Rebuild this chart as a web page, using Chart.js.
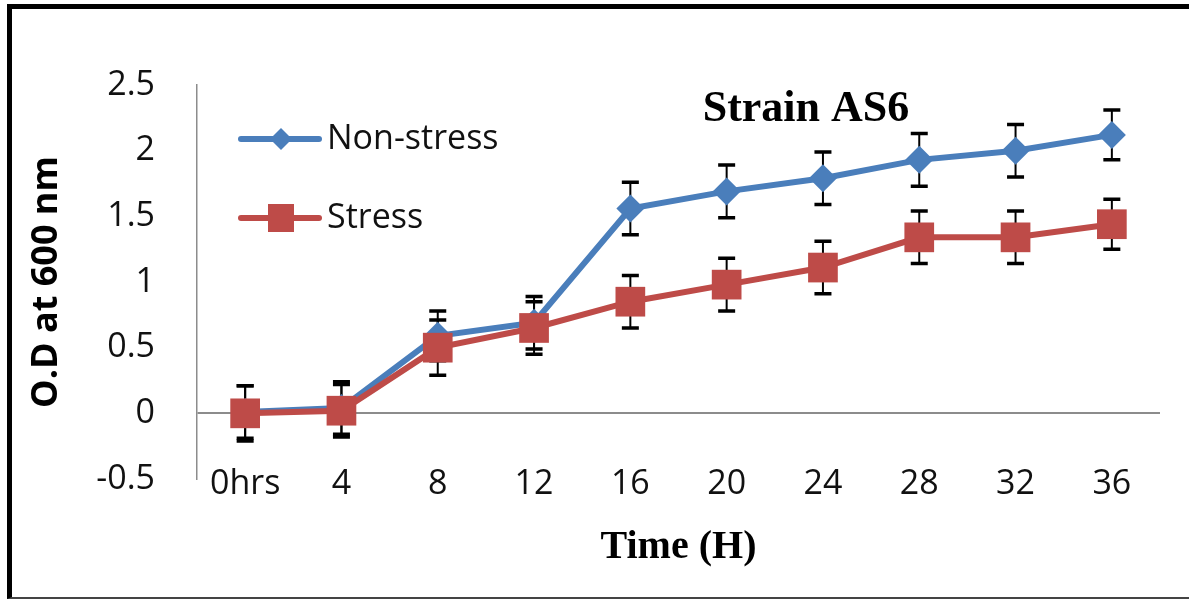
<!DOCTYPE html>
<html lang="en">
<head>
    <meta charset="UTF-8">
    <title>Strain AS6</title>
    <script src="https://cdn.jsdelivr.net/npm/chart.js"></script>
    <style>
        body {
            margin: 0;
            background: #fff;
        }

        #wrap {
            position: relative;
            width: 1189px;
            height: 601px;
        }

        #frame {
            position: absolute;
            left: 7px;
            top: 4px;
            right: 0;
            bottom: 2px;
            border-top: 5px solid #000;
            border-left: 5px solid #000;
            border-bottom: 2px solid #444;
            pointer-events: none;
        }
    </style>
</head>
<body>
    <div id="wrap">
        <canvas id="odChart" width="1189" height="601"></canvas>
        <div id="frame"></div>
    </div>

    <script>
        const hours = ['0hrs', '4', '8', '12', '16', '20', '24', '28', '32', '36'];
        const nonStress = [0.01, 0.04, 0.59, 0.69, 1.56, 1.69, 1.79, 1.93, 2.0, 2.12];
        const nonStressErr = [0.2, 0.2, 0.19, 0.2, 0.2, 0.2, 0.2, 0.2, 0.2, 0.19];
        const stress = [0.0, 0.02, 0.5, 0.65, 0.85, 0.98, 1.11, 1.34, 1.34, 1.44];
        const stressErr = [0.21, 0.2, 0.21, 0.2, 0.2, 0.2, 0.2, 0.2, 0.2, 0.19];

        const BLUE = '#4A7EBB';
        const RED = '#BE4B48';

        function diamond(ctx, x, y, r, color) {
            ctx.beginPath();
            ctx.moveTo(x, y - r);
            ctx.lineTo(x + r, y);
            ctx.lineTo(x, y + r);
            ctx.lineTo(x - r, y);
            ctx.closePath();
            ctx.fillStyle = color;
            ctx.fill();
        }

        // error bars, drawn under the lines like in the excel chart
        const errorBars = {
            id: 'errorBars',
            beforeDatasetsDraw(chart) {
                const ctx = chart.ctx;
                const yScale = chart.scales.y;
                const errs = [nonStressErr, stressErr];
                ctx.save();
                ctx.strokeStyle = '#000';
                chart.data.datasets.forEach((ds, i) => {
                    const meta = chart.getDatasetMeta(i);
                    meta.data.forEach((pt, j) => {
                        const top = yScale.getPixelForValue(ds.data[j] + errs[i][j]);
                        const bot = yScale.getPixelForValue(ds.data[j] - errs[i][j]);
                        ctx.lineWidth = 2;
                        ctx.beginPath();
                        ctx.moveTo(pt.x, top);
                        ctx.lineTo(pt.x, bot);
                        ctx.stroke();
                        ctx.lineWidth = 3.5;
                        ctx.beginPath();
                        ctx.moveTo(pt.x - 8.5, top);
                        ctx.lineTo(pt.x + 8.5, top);
                        ctx.moveTo(pt.x - 8.5, bot);
                        ctx.lineTo(pt.x + 8.5, bot);
                        ctx.stroke();
                    });
                });
                ctx.restore();
            }
        };

        // legend box and chart title sit inside the plot area
        const insideText = {
            id: 'insideText',
            afterDraw(chart) {
                const ctx = chart.ctx;
                ctx.save();
                ctx.lineCap = 'round';
                ctx.lineWidth = 6;

                ctx.strokeStyle = BLUE;
                ctx.beginPath();
                ctx.moveTo(241, 139);
                ctx.lineTo(319, 139);
                ctx.stroke();
                diamond(ctx, 281, 139, 11, BLUE);

                ctx.strokeStyle = RED;
                ctx.beginPath();
                ctx.moveTo(241, 218);
                ctx.lineTo(319, 218);
                ctx.stroke();
                ctx.fillStyle = RED;
                ctx.fillRect(268, 204, 26, 28);

                ctx.fillStyle = '#111';
                ctx.font = '34px "Open Sans"';
                ctx.textAlign = 'left';
                ctx.textBaseline = 'middle';
                ctx.fillText(chart.data.datasets[0].label, 327, 139);
                ctx.fillText(chart.data.datasets[1].label, 327, 218);

                ctx.font = 'bold 44px "Liberation Serif"';
                ctx.textAlign = 'center';
                ctx.fillStyle = '#000';
                ctx.fillText('Strain AS6', 806, 110);
                ctx.restore();
            }
        };

        const ctx = document.getElementById('odChart').getContext('2d');
        new Chart(ctx, {
            type: 'line',
            data: {
                labels: hours,
                datasets: [
                    {
                        label: 'Non-stress',
                        data: nonStress,
                        order: 2,
                        borderColor: BLUE,
                        backgroundColor: BLUE,
                        borderWidth: 6,
                        pointStyle: 'rectRot',
                        pointRadius: 14,
                        pointBorderWidth: 0,
                        tension: 0
                    },
                    {
                        label: 'Stress',
                        data: stress,
                        order: 1,
                        borderColor: RED,
                        backgroundColor: RED,
                        borderWidth: 6,
                        pointStyle: 'rect',
                        pointRadius: 21,
                        pointBorderWidth: 0,
                        tension: 0
                    }
                ]
            },
            options: {
                responsive: false,
                animation: false,
                layout: {
                    padding: { left: 14, top: 85, right: 29, bottom: 0 }
                },
                plugins: {
                    legend: { display: false },
                    tooltip: { enabled: false }
                },
                scales: {
                    x: {
                        offset: true,
                        grid: { display: false, drawTicks: false },
                        border: { display: false },
                        ticks: {
                            color: '#111',
                            padding: -15,
                            font: { family: 'Open Sans', size: 34 }
                        },
                        title: {
                            display: true,
                            text: 'Time (H)',
                            color: '#000',
                            padding: { top: 0, bottom: 29 },
                            font: { family: 'Liberation Serif', size: 40, weight: 'bold' }
                        },
                        afterFit(scale) {
                            scale.height = 122;
                            // labels ride up into the plot a bit, so no clipping
                            scale._computeLabelArea = () => undefined;
                        }
                    },
                    y: {
                        min: -0.5,
                        max: 2.5,
                        grid: {
                            drawTicks: false,
                            lineWidth: 2,
                            color: c => c.tick && c.tick.value === 0 ? '#8c8c8c' : 'rgba(0,0,0,0)'
                        },
                        border: { display: true, color: '#8c8c8c', width: 1.5 },
                        ticks: {
                            stepSize: 0.5,
                            color: '#111',
                            padding: 42,
                            font: { family: 'Open Sans', size: 34 },
                            callback: v => String(v)
                        },
                        title: {
                            display: true,
                            text: 'O.D at 600 nm',
                            color: '#000',
                            padding: { top: 11, bottom: 0 },
                            font: { family: 'Open Sans', size: 36, weight: 'bold' }
                        },
                        afterFit(scale) { scale.width = 183; }
                    }
                }
            },
            plugins: [errorBars, insideText]
        });
    </script>
</body>
</html>
